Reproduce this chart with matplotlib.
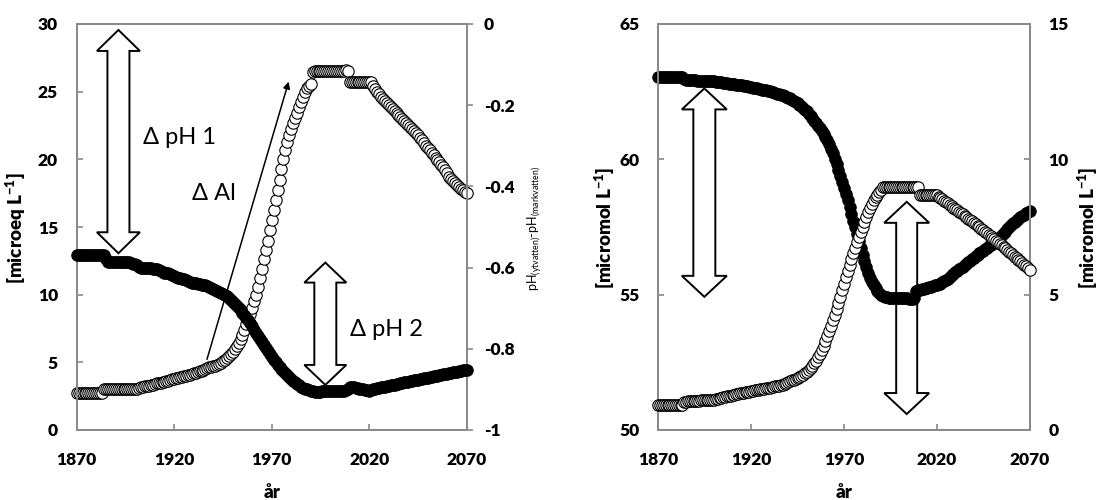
import numpy as np
import matplotlib
matplotlib.use("Agg")
import matplotlib.pyplot as plt
from matplotlib.patches import Polygon

plt.rcParams['font.family'] = ['Lato', 'DejaVu Sans']
plt.rcParams['axes.unicode_minus'] = False
plt.rcParams['mathtext.default'] = 'regular'

# ---------------- data ----------------
years = np.arange(1870, 2071)

# left panel, open circles: Al [microeq L-1] (left axis)
al_left = [
    2.71, 2.71, 2.71, 2.71, 2.71, 2.71, 2.71, 2.71, 2.71, 2.71,
    2.71, 2.71, 2.71, 2.71,
    3.00, 3.00, 3.00, 3.00, 3.00, 3.00,
    3.00, 3.00, 3.00, 3.00, 3.00, 3.00, 3.00, 3.00, 3.00, 3.00,
    3.00,
    3.05, 3.10, 3.15, 3.20, 3.22, 3.25, 3.28, 3.31, 3.35, 3.40,
    3.45, 3.48, 3.50, 3.53, 3.56, 3.60, 3.65, 3.70, 3.74, 3.78,
    3.82, 3.85, 3.88, 3.92, 3.96, 4.00, 4.05, 4.10, 4.15, 4.19,
    4.24, 4.29, 4.34, 4.39, 4.44, 4.50, 4.56, 4.62, 4.67, 4.72,
    4.76, 4.80, 4.88, 4.98, 5.10, 5.20, 5.30, 5.45, 5.60, 5.75,
    5.95, 6.20, 6.45, 6.75, 7.05, 7.40, 7.80, 8.20, 8.60, 9.05,
    9.50, 10.00, 10.60, 11.20, 11.90, 12.60, 13.30, 14.00, 14.75, 15.50,
    16.25, 17.00, 17.75, 18.50, 19.25, 20.00, 20.70, 21.30, 21.80, 22.25,
    22.65, 23.05, 23.45, 23.85, 24.25, 24.60, 24.95, 25.25, 25.45, 25.60,
    26.45, 26.50, 26.50, 26.50, 26.50, 26.50, 26.50, 26.50, 26.50, 26.50,
    26.50, 26.50, 26.50, 26.55, 26.55, 26.55, 26.55, 26.60, 26.50,
    25.75, 25.75, 25.75, 25.75, 25.75, 25.75, 25.75, 25.75, 25.75, 25.75, 25.75,
    25.70, 25.40, 25.20, 25.00, 24.80, 24.60, 24.45, 24.30, 24.15, 24.00,
    23.85, 23.70, 23.55, 23.40, 23.25, 23.10, 22.95, 22.80, 22.65, 22.50,
    22.40, 22.25, 22.10, 21.95, 21.80, 21.60, 21.40, 21.20, 21.00, 20.85,
    20.70, 20.50, 20.30, 20.10, 19.95, 19.80, 19.60, 19.40, 19.20, 19.00,
    18.70, 18.55, 18.40, 18.25, 18.10, 17.95, 17.80, 17.70, 17.60, 17.50,
]

# left panel, filled circles: pH(ytvatten) - pH(markvatten) (right axis)
ph_diff = [
    -0.569, -0.569, -0.569, -0.569, -0.569, -0.569, -0.569, -0.569, -0.569, -0.569,
    -0.569, -0.569, -0.569, -0.569, -0.569,
    -0.578,
    -0.587, -0.587, -0.587, -0.587, -0.587, -0.587, -0.587,
    -0.586, -0.585, -0.585, -0.585, -0.586, -0.588, -0.590,
    -0.590, -0.594, -0.598, -0.600, -0.600, -0.600, -0.601, -0.601, -0.602, -0.603,
    -0.603, -0.604, -0.606, -0.609, -0.612, -0.613, -0.613, -0.614, -0.615, -0.617,
    -0.620, -0.623, -0.625, -0.626, -0.627, -0.628, -0.630, -0.633, -0.636, -0.638,
    -0.639, -0.639, -0.640, -0.641, -0.642, -0.643, -0.644, -0.645, -0.647, -0.650,
    -0.653, -0.655, -0.657, -0.659, -0.662, -0.665, -0.668, -0.671, -0.675, -0.679,
    -0.684, -0.689, -0.695, -0.700, -0.705, -0.711, -0.717, -0.723, -0.730, -0.737,
    -0.745, -0.753, -0.761, -0.769, -0.776, -0.784, -0.791, -0.799, -0.806, -0.813,
    -0.820, -0.827, -0.833, -0.839, -0.845, -0.850, -0.855, -0.860, -0.865, -0.870,
    -0.875, -0.879, -0.883, -0.887, -0.890, -0.893, -0.896, -0.898, -0.900, -0.902,
    -0.904, -0.905, -0.906, -0.906, -0.906, -0.906, -0.905, -0.905, -0.905, -0.905,
    -0.904, -0.904, -0.904, -0.904, -0.903, -0.903, -0.903, -0.903, -0.902, -0.898,
    -0.894, -0.894, -0.895, -0.896, -0.897, -0.898, -0.899, -0.900, -0.901, -0.902,
    -0.903, -0.901, -0.899, -0.898, -0.897, -0.896, -0.895, -0.894, -0.893, -0.892,
    -0.891, -0.890, -0.889, -0.888, -0.887, -0.886, -0.885, -0.884, -0.883, -0.882,
    -0.881, -0.880, -0.879, -0.878, -0.877, -0.876, -0.875, -0.874, -0.873, -0.872,
    -0.871, -0.870, -0.869, -0.868, -0.867, -0.866, -0.865, -0.864, -0.863, -0.862,
    -0.861, -0.860, -0.859, -0.858, -0.857, -0.856, -0.855, -0.854, -0.853, -0.852,
    -0.851,
]

# right panel, filled circles [micromol L-1] (left axis)
conc_black = [
    63.05, 63.05, 63.05, 63.05, 63.05, 63.05, 63.05, 63.05, 63.05, 63.05,
    63.05, 63.05, 63.05, 63.05,
    62.95,
    62.93, 62.93, 62.93, 62.92, 62.92, 62.92, 62.91, 62.91, 62.91, 62.90,
    62.90, 62.90, 62.89, 62.89, 62.88, 62.88,
    62.87, 62.86, 62.85, 62.84, 62.83, 62.82, 62.81, 62.80, 62.79, 62.78,
    62.77, 62.76, 62.75, 62.75, 62.74,
    62.72, 62.71, 62.70, 62.68, 62.67, 62.65, 62.64, 62.62, 62.61, 62.59,
    62.58, 62.56, 62.55, 62.53, 62.51,
    62.49, 62.47, 62.45, 62.43, 62.41, 62.39, 62.37, 62.34, 62.31, 62.27,
    62.25, 62.21, 62.17, 62.12, 62.07, 62.02, 61.96, 61.91, 61.84, 61.77,
    61.69, 61.60, 61.51, 61.42, 61.33, 61.24, 61.14, 61.04, 60.94, 60.83,
    60.70, 60.56, 60.40, 60.22, 60.03, 59.83, 59.62, 59.40, 59.18, 58.95,
    58.72, 58.48, 58.24, 57.99, 57.74, 57.49, 57.23, 56.97, 56.72, 56.47,
    56.23, 56.01, 55.81, 55.63, 55.48, 55.35, 55.24, 55.14, 55.06, 55.00,
    54.95, 54.92, 54.90, 54.88, 54.87, 54.87, 54.86, 54.86, 54.86, 54.86,
    54.86, 54.86, 54.86, 54.86, 54.85, 54.85, 54.85, 54.86,
    55.15,
    55.17, 55.18, 55.20, 55.22, 55.24, 55.26, 55.28, 55.30, 55.32, 55.34, 55.36,
    55.38, 55.41, 55.45, 55.49, 55.54, 55.59, 55.65, 55.71, 55.77, 55.83,
    55.88, 55.94, 55.99, 56.04, 56.10, 56.15, 56.21, 56.26, 56.32, 56.37,
    56.43, 56.48, 56.53, 56.58, 56.63, 56.68, 56.73, 56.78, 56.83, 56.88,
    56.93, 56.99, 57.05, 57.12, 57.19, 57.26, 57.33, 57.41, 57.49, 57.56,
    57.63, 57.69, 57.75, 57.81, 57.86, 57.91, 57.96, 58.01, 58.06, 58.10,
]

# right panel, open circles [micromol L-1] (right axis)
conc_white = [
    0.92, 0.92, 0.92, 0.92, 0.92, 0.92, 0.92, 0.92, 0.92, 0.92,
    0.92, 0.92, 0.92, 0.92,
    1.05, 1.05, 1.06, 1.06, 1.07, 1.07, 1.08, 1.08, 1.08, 1.09,
    1.09, 1.09, 1.10, 1.10, 1.10, 1.11, 1.11,
    1.13, 1.15, 1.17, 1.19, 1.21, 1.23, 1.24, 1.26, 1.27, 1.29,
    1.30, 1.32, 1.33, 1.35, 1.36, 1.37, 1.39, 1.40, 1.42, 1.43,
    1.45, 1.46, 1.48, 1.49, 1.50, 1.52, 1.53, 1.54, 1.56, 1.57,
    1.58, 1.60, 1.61, 1.63, 1.64, 1.66, 1.68, 1.71, 1.74, 1.77,
    1.80, 1.83, 1.86, 1.89, 1.93, 1.97, 2.01, 2.05, 2.10, 2.16,
    2.22, 2.29, 2.37, 2.46, 2.56, 2.68, 2.81, 2.95, 3.12, 3.30,
    3.48, 3.66, 3.86, 4.06, 4.26, 4.47, 4.70, 4.93, 5.16, 5.40,
    5.64, 5.88, 6.10, 6.32, 6.53, 6.74, 6.94, 7.13, 7.32, 7.50,
    7.68, 7.86, 8.04, 8.20, 8.35, 8.48, 8.60, 8.70, 8.80, 8.88,
    8.99, 8.99, 8.99, 8.99, 8.99, 8.99, 8.99, 8.99, 8.99, 8.99,
    8.99, 8.99, 8.99, 8.99, 8.99, 8.99, 8.99, 8.99, 8.99, 8.99,
    8.68, 8.68, 8.68, 8.68, 8.68, 8.68, 8.68, 8.68, 8.68, 8.68,
    8.62, 8.57, 8.52, 8.47, 8.42, 8.37, 8.32, 8.27, 8.22, 8.17,
    8.12, 8.07, 8.02, 7.97, 7.92, 7.86, 7.81, 7.76, 7.71, 7.65,
    7.60, 7.55, 7.49, 7.44, 7.38, 7.33, 7.27, 7.22, 7.16, 7.11,
    7.05, 6.99, 6.94, 6.88, 6.82, 6.77, 6.71, 6.65, 6.59, 6.53,
    6.47, 6.41, 6.35, 6.29, 6.23, 6.17, 6.11, 6.05, 5.98, 5.91,
]

x_ticks = [1870, 1920, 1970, 2020, 2070]
left_yticks = [0, 5, 10, 15, 20, 25, 30]
ph_yticks = [-1.0, -0.8, -0.6, -0.4, -0.2, 0.0]
right_yticks = [50, 55, 60, 65]
right2_yticks = [0, 5, 10, 15]

# ---------------- figure ----------------
W, H = 1099, 500
fig = plt.figure(figsize=(W / 100, H / 100), dpi=100)
GRAY = '#8a8a8a'
TICK_FS = 12.5
LAB_FS = 13.5

axL = fig.add_axes([76.7 / W, 70 / H, 390 / W, 406 / H])
axL2 = axL.twinx()
axR = fig.add_axes([658.3 / W, 70 / H, 371.3 / W, 406 / H])
axR2 = axR.twinx()

for a in (axL, axL2, axR, axR2):
    for s in a.spines.values():
        s.set_color(GRAY)
        s.set_linewidth(1.4)
    a.tick_params(colors=GRAY, labelcolor='black', width=1.2, length=4,
                  labelsize=TICK_FS)

MS = 8.2
MEW = 0.8

# left panel data
axL.plot(years, al_left, linestyle='none', marker='o', ms=MS, mfc='white',
         mec='black', mew=MEW, clip_on=False, zorder=3)
axL2.plot(years, ph_diff, linestyle='none', marker='o', ms=MS, mfc='black',
          mec='black', mew=MEW, clip_on=False, zorder=3)

axL.set_xlim(1870, 2070)
axL.set_ylim(0, 30)
axL2.set_ylim(-1, 0)
axL.set_xticks(x_ticks)
axL.set_yticks(left_yticks)
axL2.set_yticks(ph_yticks)
axL2.set_yticklabels([f"{round(v, 1):g}" for v in ph_yticks])
axL.tick_params(axis='x', direction='in', pad=15.5)
axL.tick_params(axis='y', direction='in', pad=13.5)
axL2.tick_params(axis='y', direction='out', pad=8.5)

# right panel data
axR.plot(years, conc_black, linestyle='none', marker='o', ms=MS, mfc='black',
         mec='black', mew=MEW, clip_on=False, zorder=3)
axR2.plot(years, conc_white, linestyle='none', marker='o', ms=MS, mfc='white',
          mec='black', mew=MEW, clip_on=False, zorder=3)
axR.set_xlim(1870, 2070)
axR.set_ylim(50, 65)
axR2.set_ylim(0, 15)
axR.set_xticks(x_ticks)
axR.set_yticks(right_yticks)
axR2.set_yticks(right2_yticks)
axR.tick_params(axis='x', direction='in', pad=15.5)
axR.tick_params(axis='y', direction='in', pad=13.5)
axR2.tick_params(axis='y', direction='in', pad=13.5)

for a in (axL, axL2, axR, axR2):
    for lab in a.get_xticklabels() + a.get_yticklabels():
        lab.set_fontweight('heavy')


# ---------------- block double arrows ----------------
def double_arrow(ax, x, y0, y1, shaft_px, head_px, headlen_px):
    p0 = ax.transData.transform((x, y0))
    p1 = ax.transData.transform((x, y1))
    cx, lo, hi = p0[0], p0[1], p1[1]
    hs, hw, hl = shaft_px / 2, head_px / 2, headlen_px
    verts = [(cx, hi), (cx + hw, hi - hl), (cx + hs, hi - hl), (cx + hs, lo + hl),
             (cx + hw, lo + hl), (cx, lo), (cx - hw, lo + hl), (cx - hs, lo + hl),
             (cx - hs, hi - hl), (cx - hw, hi - hl)]
    verts = ax.transAxes.inverted().transform(verts)
    poly = Polygon(verts, closed=True, transform=ax.transAxes, facecolor='white',
                   edgecolor='black', linewidth=1.4, joinstyle='miter',
                   clip_on=False, zorder=1)
    ax.add_patch(poly)


double_arrow(axL, 1891.4, 13.06, 29.56, 22, 43, 21)
double_arrow(axL, 1997.5, 3.33, 12.37, 22, 42, 20)
double_arrow(axR, 1894.8, 54.92, 62.62, 22, 45, 21)
double_arrow(axR, 2003.8, 50.59, 58.43, 21, 45, 21)

axL.annotate('', xy=(1978.7, 25.74), xytext=(1936.8, 5.22),
             arrowprops=dict(arrowstyle='-|>', color='black', lw=1.1,
                             mutation_scale=10, shrinkA=0, shrinkB=0),
             zorder=4)

TXT = dict(fontsize=17, fontweight='normal', ha='left', va='center')
axL.text(1904.1, 21.58, 'Δ pH 1', **TXT)
axL.text(1929.2, 17.5, 'Δ Al', **TXT)
axL.text(2009.9, 7.39, 'Δ pH 2', **TXT)

# ---------------- axis titles ----------------
fig.text(16 / W, 1 - 228 / H, '[microeq L$^{-1}$]', rotation=90, ha='center',
         va='center', fontsize=LAB_FS, fontweight='heavy')
fig.text(535 / W, 1 - 228 / H, 'pH$_{(ytvatten)}$-pH$_{(markvatten)}$',
         rotation=90, ha='center', va='center', fontsize=9, fontweight='normal')
fig.text(605 / W, 1 - 228 / H, '[micromol L$^{-1}$]', rotation=90, ha='center',
         va='center', fontsize=LAB_FS, fontweight='heavy')
fig.text(1088 / W, 1 - 228 / H, '[micromol L$^{-1}$]', rotation=90, ha='center',
         va='center', fontsize=LAB_FS, fontweight='heavy')
fig.text((76.7 + 195) / W, 1 - 492 / H, 'år', ha='center', va='center',
         fontsize=LAB_FS, fontweight='heavy')
fig.text((658.3 + 185.6) / W, 1 - 492 / H, 'år', ha='center', va='center',
         fontsize=LAB_FS, fontweight='heavy')

fig.savefig('out.png', dpi=100, facecolor='white')
